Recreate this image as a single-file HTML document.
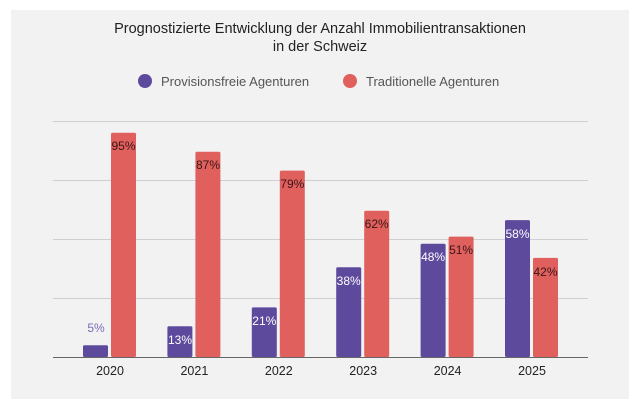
<!DOCTYPE html>
<html><head><meta charset="utf-8"><style>
html,body{margin:0;padding:0;background:#fff;width:640px;height:411px;overflow:hidden}
svg{display:block}
</style></head><body>
<svg width="640" height="411" xmlns="http://www.w3.org/2000/svg" font-family="Liberation Sans, sans-serif">
<rect x="11" y="10" width="618" height="389" fill="#f2f2f3"/>
<text x="320" y="33" text-anchor="middle" font-size="14.5" fill="#222">Prognostizierte Entwicklung der Anzahl Immobilientransaktionen</text>
<text x="320" y="51" text-anchor="middle" font-size="14.5" fill="#222">in der Schweiz</text>
<circle cx="145" cy="81" r="7" fill="#5e4a9c"/>
<text x="161" y="86" font-size="13" fill="#555">Provisionsfreie Agenturen</text>
<circle cx="350" cy="81" r="7" fill="#e0605e"/>
<text x="366" y="86" font-size="13" fill="#555">Traditionelle Agenturen</text>
<g stroke="#cfcfd2" stroke-width="1">
<line x1="53" x2="588" y1="121.5" y2="121.5"/>
<line x1="53" x2="588" y1="180.5" y2="180.5"/>
<line x1="53" x2="588" y1="239.5" y2="239.5"/>
<line x1="53" x2="588" y1="298.5" y2="298.5"/>
</g>
<g font-size="12" text-anchor="middle">
<!-- 2020 -->
<rect x="83" y="345.2" width="25" height="11.8" fill="#5e4a9c" rx="1.5"/>
<rect x="111" y="132.8" width="25" height="224.2" fill="#e0605e" rx="1.5"/>
<text x="96" y="332" fill="#7b6bb5">5%</text>
<text x="123.5" y="150" fill="#3a1515">95%</text>
<!-- 2021 -->
<rect x="167.4" y="326.3" width="25" height="30.7" fill="#5e4a9c" rx="1.5"/>
<rect x="195.4" y="151.7" width="25" height="205.3" fill="#e0605e" rx="1.5"/>
<text x="180" y="344" fill="#fff">13%</text>
<text x="208" y="169" fill="#3a1515">87%</text>
<!-- 2022 -->
<rect x="251.8" y="307.4" width="25" height="49.6" fill="#5e4a9c" rx="1.5"/>
<rect x="279.8" y="170.6" width="25" height="186.4" fill="#e0605e" rx="1.5"/>
<text x="264.3" y="325" fill="#fff">21%</text>
<text x="292.3" y="188" fill="#3a1515">79%</text>
<!-- 2023 -->
<rect x="336.2" y="267.3" width="25" height="89.7" fill="#5e4a9c" rx="1.5"/>
<rect x="364.2" y="210.7" width="25" height="146.3" fill="#e0605e" rx="1.5"/>
<text x="348.7" y="285" fill="#fff">38%</text>
<text x="376.7" y="228" fill="#3a1515">62%</text>
<!-- 2024 -->
<rect x="420.6" y="243.7" width="25" height="113.3" fill="#5e4a9c" rx="1.5"/>
<rect x="448.6" y="236.6" width="25" height="120.4" fill="#e0605e" rx="1.5"/>
<text x="433.1" y="261" fill="#fff">48%</text>
<text x="461.1" y="254" fill="#3a1515">51%</text>
<!-- 2025 -->
<rect x="505" y="220.1" width="25" height="136.9" fill="#5e4a9c" rx="1.5"/>
<rect x="533" y="257.9" width="25" height="99.1" fill="#e0605e" rx="1.5"/>
<text x="517.5" y="238" fill="#fff">58%</text>
<text x="545.5" y="276" fill="#3a1515">42%</text>
</g>
<line x1="53" x2="588" y1="357.5" y2="357.5" stroke="#666" stroke-width="1"/>
<g font-size="12.5" fill="#222" text-anchor="middle">
<text x="110" y="375">2020</text>
<text x="194.4" y="375">2021</text>
<text x="278.8" y="375">2022</text>
<text x="363.2" y="375">2023</text>
<text x="447.6" y="375">2024</text>
<text x="532" y="375">2025</text>
</g>
</svg>
</body></html>
